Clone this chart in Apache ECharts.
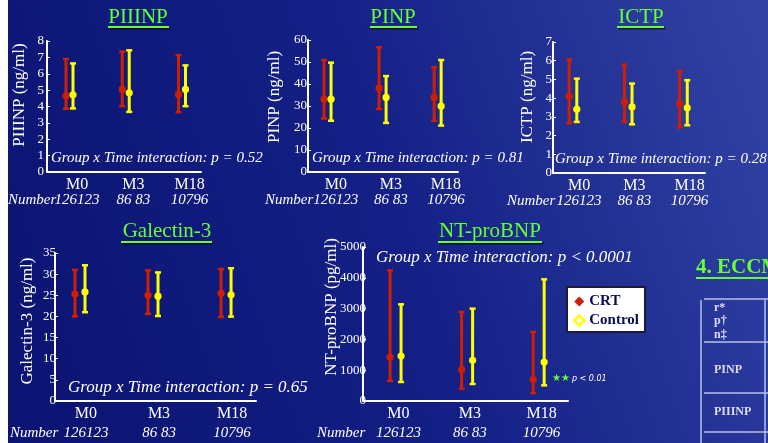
<!DOCTYPE html>
<html>
<head>
<meta charset="utf-8">
<script src="https://cdn.jsdelivr.net/npm/echarts@6/dist/echarts.min.js"></script>
<style>html,body{margin:0;padding:0;background:#fff}#c{width:768px;height:443px}</style>
</head>
<body>
<div id="c"></div>
<script>
// ---------- DATA ([Q1, median, Q3]) ----------
const categories = ['M0', 'M3', 'M18'];
const nCRT = [126, 86, 107];
const nControl = [123, 83, 96];

const piiinpCRT     = [[3.86, 4.65, 6.90], [4.02, 5.04, 7.35], [3.65, 4.73, 7.14]];
const piiinpControl = [[3.88, 4.71, 6.63], [3.67, 4.84, 7.43], [4.02, 5.04, 6.51]];

const pinpCRT     = [[24.3, 33.1, 50.9], [28.6, 38.1, 56.7], [23.3, 33.9, 47.6]];
const pinpControl = [[23.3, 33.1, 49.7], [22.3, 33.9, 43.6], [21.1, 29.9, 50.9]];

const ictpCRT     = [[2.66, 4.10, 6.06], [2.74, 3.80, 5.79], [2.44, 3.70, 5.45]];
const ictpControl = [[2.73, 3.40, 5.04], [2.60, 3.53, 4.78], [2.55, 3.48, 4.96]];

const galectinCRT     = [[20.0, 25.3, 31.0], [20.6, 25.0, 30.9], [19.9, 25.5, 31.2]];
const galectinControl = [[21.0, 25.8, 32.1], [20.1, 24.8, 30.4], [19.95, 25.1, 31.4]];

const ntprobnpCRT     = [[649, 1429, 4242], [400, 1017, 2890], [260, 703, 2240]];
const ntprobnpControl = [[617, 1461, 3139], [552, 1320, 2998], [509, 1266, 3950]];

const pValues = ['0.52', '0.81', '0.28', '0.65', '< 0.0001'];

// ---------- LAYOUT ----------
const serif = '"Liberation Serif", "Times New Roman", serif';
const RED = '#cf1f03';
const YEL = '#ffff00';
const GREEN = '#66ff33';

const panels = [
  {title: 'PIIINP', yName: 'PIIINP (ng/ml)', crt: piiinpCRT, ctl: piiinpControl, p: pValues[0],
   grid: {left: 47, top: 41, width: 154, height: 131}, xmin: -0.4, xmax: 2.338, shift: 0.135, off: 3.5,
   ymax: 8, yint: 1, lblMargin: 3, lower: false},
  {title: 'PINP', yName: 'PINP (ng/ml)', crt: pinpCRT, ctl: pinpControl, p: pValues[1],
   grid: {left: 308, top: 40, width: 150, height: 132}, xmin: -0.355, xmax: 2.37, shift: 0.15, off: 3.5,
   ymax: 60, yint: 10, lblMargin: 1, lower: false},
  {title: 'ICTP', yName: 'ICTP (ng/ml)', crt: ictpCRT, ctl: ictpControl, p: pValues[2],
   grid: {left: 553, top: 42, width: 152, height: 131}, xmin: -0.362, xmax: 2.39, shift: 0.11, off: 3.8,
   ymax: 7, yint: 1, lblMargin: 1, lower: false},
  {title: 'Galectin-3', yName: 'Galectin-3 (ng/ml)', crt: galectinCRT, ctl: galectinControl, p: pValues[3],
   grid: {left: 55, top: 253, width: 201, height: 148}, xmin: -0.342, xmax: 2.41, shift: 0.082, off: 5,
   ymax: 35, yint: 5, lblMargin: -1, lower: true},
  {title: 'NT-proBNP', yName: 'NT-proBNP (pg/ml)', crt: ntprobnpCRT, ctl: ntprobnpControl, p: pValues[4],
   grid: {left: 363, top: 247, width: 205, height: 154}, xmin: -0.455, xmax: 2.41, shift: 0.04, off: 5.5,
   ymax: 5000, yint: 1000, lblMargin: -3, lower: true}
];

function nLabel(i) {
  const a = nCRT[i], b = nControl[i];
  return (a < 100 && b < 100) ? (a + ' ' + b) : ('' + a + b);
}

function makeRender(offsetPx, color) {
  return function (params, api) {
    const i = api.value(0);
    const lo = api.coord([i, api.value(1)]);
    const md = api.coord([i, api.value(2)]);
    const hi = api.coord([i, api.value(3)]);
    const x = lo[0] + offsetPx;
    const cap = 3;
    return {
      type: 'group',
      children: [
        {type: 'line', shape: {x1: x, y1: lo[1], x2: x, y2: hi[1]}, style: {stroke: color, lineWidth: 3}},
        {type: 'line', shape: {x1: x - cap, y1: hi[1], x2: x + cap, y2: hi[1]}, style: {stroke: color, lineWidth: 2.5}},
        {type: 'line', shape: {x1: x - cap, y1: lo[1], x2: x + cap, y2: lo[1]}, style: {stroke: color, lineWidth: 2.5}},
        {type: 'circle', shape: {cx: x, cy: md[1], r: 3.6}, style: {fill: color}}
      ]
    };
  };
}

const grids = [], xAxes = [], yAxes = [], series = [];
panels.forEach((pn, k) => {
  grids.push(Object.assign({containLabel: false, outerBoundsMode: 'none'}, pn.grid));
  const vals = categories.map((c, i) => i + pn.shift);
  xAxes.push({
    type: 'value', gridIndex: k, min: pn.xmin, max: pn.xmax,
    axisLine: {show: true, onZero: false, lineStyle: {color: '#ffffff', width: 2}},
    axisTick: {show: false}, splitLine: {show: false},
    axisLabel: {
      show: true, customValues: vals, margin: pn.lower ? 4 : 5,
      formatter: function (v) {
        const i = Math.round(v - pn.shift);
        return '{m|' + categories[i] + '}\n{n|' + nLabel(i) + '}';
      },
      rich: {
        m: {fontFamily: serif, fontSize: 16, color: '#ffffff', lineHeight: pn.lower ? 18 : 16, align: 'center'},
        n: {fontFamily: serif, fontSize: 15, fontStyle: 'italic', color: '#ffffff', lineHeight: pn.lower ? 21 : 14, align: 'center'}
      }
    }
  });
  yAxes.push({
    type: 'value', gridIndex: k, min: 0, max: pn.ymax, interval: pn.yint,
    axisLine: {show: true, onZero: false, lineStyle: {color: '#ffffff', width: 2}},
    axisTick: {show: true, inside: true, length: 3, lineStyle: {color: '#ffffff', width: 1}},
    splitLine: {show: false},
    axisLabel: {color: '#ffffff', fontFamily: serif, fontSize: 13, margin: pn.lblMargin,
      formatter: function (v) { return String(v); }}
  });
  [['CRT', pn.crt, -pn.off, RED], ['Control', pn.ctl, pn.off, YEL]].forEach(([name, arr, off, col]) => {
    series.push({
      type: 'custom', name: name, xAxisIndex: k, yAxisIndex: k,
      itemStyle: {color: col},
      encode: {x: 0, y: [1, 2, 3]},
      data: arr.map((t, i) => [i, t[0], t[1], t[2]]),
      renderItem: makeRender(off, col),
      clip: false, silent: true
    });
  });
});

// ---------- TEXT / DECORATIONS ----------
const graphics = [];
graphics.push({type: 'rect', shape: {x: 0, y: 0, width: 8, height: 443}, style: {fill: '#ffffff'}, z: 100});

function title(text, cx, cy, ux1, ux2, uy) {
  graphics.push({type: 'text', x: cx, y: cy, z: 50, style: {text: text, fill: GREEN, font: '21px ' + serif,
    align: 'center', verticalAlign: 'middle', shadowColor: 'rgba(0,0,0,0.7)', shadowOffsetX: 1.5, shadowOffsetY: 1.5}});
  graphics.push({type: 'line', z: 49, shape: {x1: ux1 + 1.5, y1: uy + 1.5, x2: ux2 + 1.5, y2: uy + 1.5}, style: {stroke: 'rgba(0,0,0,0.6)', lineWidth: 2}});
  graphics.push({type: 'line', z: 50, shape: {x1: ux1, y1: uy, x2: ux2, y2: uy}, style: {stroke: GREEN, lineWidth: 2}});
}
title(panels[0].title, 138, 17, 108, 169, 27);
title(panels[1].title, 393, 17, 370, 417, 27);
title(panels[2].title, 641, 17, 617, 664, 27);
title(panels[3].title, 167, 231, 121, 212, 242);
title(panels[4].title, 490, 231, 438, 542, 242);

function yName(text, cx, cy) {
  graphics.push({type: 'text', x: cx, y: cy, rotation: Math.PI / 2, z: 50,
    style: {text: text, fill: '#ffffff', font: '17px ' + serif, align: 'center', verticalAlign: 'middle'}});
}
yName(panels[0].yName, 20, 95);
yName(panels[1].yName, 275, 97);
yName(panels[2].yName, 528, 97);
yName(panels[3].yName, 28, 321);
yName(panels[4].yName, 332, 307);

function groupText(p, x, y, size) {
  const op = p.charAt(0) === '<' ? '' : '= ';
  graphics.push({type: 'text', x: x, y: y, z: 50,
    style: {text: 'Group x Time interaction: p ' + op + p, fill: '#ffffff', font: 'italic ' + size + 'px ' + serif,
      align: 'left', verticalAlign: 'middle'}});
}
groupText(panels[0].p, 51, 158, 15);
groupText(panels[1].p, 312, 158, 15);
groupText(panels[2].p, 555, 159, 15);
groupText(panels[3].p, 68, 388, 17);
groupText(panels[4].p, 376, 258, 17);

function numberWord(x, y) {
  graphics.push({type: 'text', x: x, y: y, z: 50,
    style: {text: 'Number', fill: '#ffffff', font: 'italic 15px ' + serif, align: 'left', verticalAlign: 'middle'}});
}
numberWord(8, 200);
numberWord(265, 200);
numberWord(507, 201);
numberWord(10, 433);
numberWord(317, 433);

// significance stars
graphics.push({type: 'text', x: 552, y: 378, z: 50,
  style: {text: '★★', fill: GREEN, font: '10px "DejaVu Sans"', align: 'left', verticalAlign: 'middle'}});
graphics.push({type: 'text', x: 572, y: 379, z: 50,
  style: {text: 'p < 0.01', fill: '#ffffff', font: 'italic 8px "DejaVu Sans"', align: 'left', verticalAlign: 'middle'}});

// section title + table at right edge
graphics.push({type: 'text', x: 696, y: 268, z: 50, style: {text: '4. ECCM', fill: GREEN, font: 'bold 21px ' + serif,
  align: 'left', verticalAlign: 'middle', shadowColor: 'rgba(0,0,0,0.7)', shadowOffsetX: 1.5, shadowOffsetY: 1.5}});
graphics.push({type: 'line', z: 50, shape: {x1: 696, y1: 278, x2: 768, y2: 278}, style: {stroke: GREEN, lineWidth: 2}});
const tbl = '#b9bfe8';
[[701, 300, 701, 443], [765, 299, 765, 443]].forEach(s => graphics.push({type: 'line', z: 40,
  shape: {x1: s[0], y1: s[1], x2: s[2], y2: s[3]}, style: {stroke: tbl, lineWidth: 1.5}}));
[299, 342, 393, 432].forEach(y => graphics.push({type: 'line', z: 40,
  shape: {x1: 704, y1: y, x2: 768, y2: y}, style: {stroke: tbl, lineWidth: 1.5}}));
graphics.push({type: 'group', z: 45, clipPath: {type: 'rect', shape: {x: 702, y: 300, width: 62, height: 41}}, children: [
  {type: 'text', x: 714, y: 308, style: {text: 'r*', fill: '#dcdcf2', font: 'bold 12px ' + serif, verticalAlign: 'middle'}},
  {type: 'text', x: 714, y: 321, style: {text: 'p†', fill: '#dcdcf2', font: 'bold 12px ' + serif, verticalAlign: 'middle'}},
  {type: 'text', x: 714, y: 335, style: {text: 'n‡', fill: '#dcdcf2', font: 'bold 12px ' + serif, verticalAlign: 'middle'}}
]});
graphics.push({type: 'text', x: 714, y: 370, z: 45, style: {text: 'PINP', fill: '#dcdcf2', font: 'bold 12px ' + serif, verticalAlign: 'middle'}});
graphics.push({type: 'text', x: 714, y: 412, z: 45, style: {text: 'PIIINP', fill: '#dcdcf2', font: 'bold 12px ' + serif, verticalAlign: 'middle'}});

const chart = echarts.init(document.getElementById('c'), null, {renderer: 'canvas'});
chart.setOption({
  animation: false,
  backgroundColor: {
    type: 'linear', x: 0, y: 0.7, x2: 1, y2: 0.1,
    colorStops: [{offset: 0, color: '#0b1472'}, {offset: 0.5, color: '#142086'}, {offset: 1, color: '#3242a4'}]
  },
  grid: grids,
  xAxis: xAxes,
  yAxis: yAxes,
  legend: {
    data: [
      {name: 'CRT', icon: 'diamond', itemStyle: {color: RED}},
      {name: 'Control', icon: 'diamond', itemStyle: {color: '#ffffff', borderColor: YEL, borderWidth: 2.5}}
    ],
    orient: 'vertical', left: 567, top: 287, itemWidth: 10, itemHeight: 10, itemGap: 4,
    padding: [7, 6, 4, 6], backgroundColor: '#ffffff', borderColor: '#1b1b3a', borderWidth: 2,
    selectedMode: false,
    textStyle: {color: '#0c0c50', fontFamily: serif, fontWeight: 'bold', fontSize: 15}
  },
  graphic: graphics,
  series: series
});
</script>
</body>
</html>
